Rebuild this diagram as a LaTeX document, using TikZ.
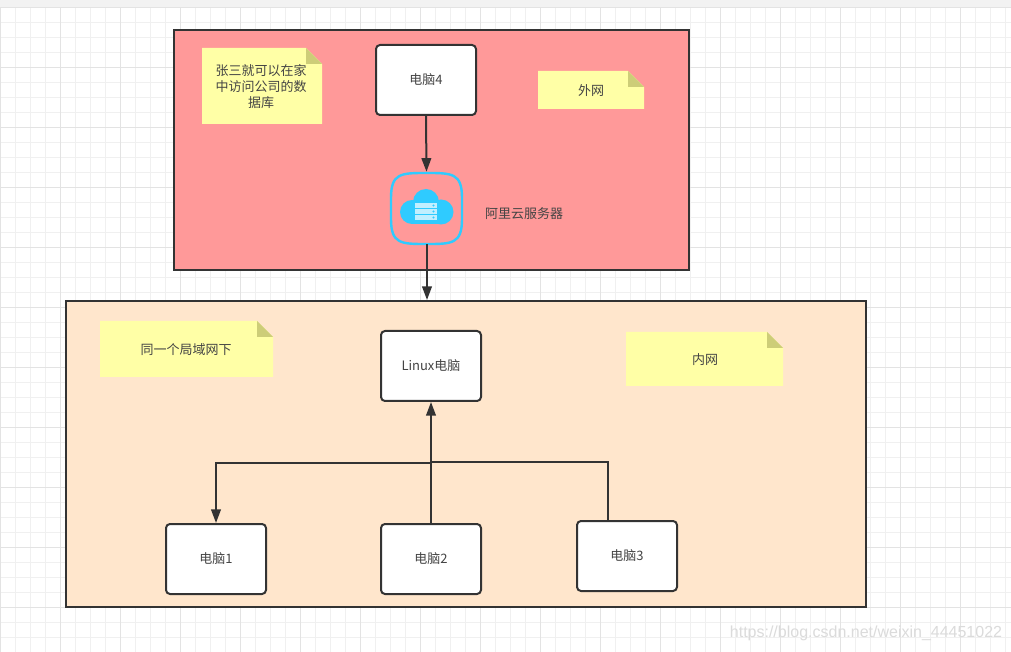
\documentclass[tikz,border=0pt]{standalone}
\usepackage{fontspec}
\setmainfont{Noto Sans CJK SC}
\newfontfamily\wmfont{Liberation Sans}
\usetikzlibrary{arrows.meta}
\definecolor{inkc}{HTML}{333333}
\definecolor{textc}{HTML}{444444}
\definecolor{redc}{HTML}{FF9999}
\definecolor{peachc}{HTML}{FFE6CC}
\definecolor{notec}{HTML}{FFFFA6}
\definecolor{foldc}{HTML}{CDCD78}
\definecolor{cloudc}{HTML}{2FCBFF}
\definecolor{minorc}{HTML}{F0F0F0}
\definecolor{majorc}{HTML}{E3E3E3}
\newcommand{\lowtext}[1]{\raisebox{-.75pt}{#1}}
\tikzset{
  x=0.75pt,y=-0.75pt,
  every node/.style={font=\fontsize{9.75}{12}\selectfont,text=textc,inner sep=0pt,align=center},
  compbox/.style={draw=inkc,fill=white,line width=1.5pt,rounded corners=3pt,minimum width=75pt,minimum height=52.5pt},
  link/.style={draw=inkc,line width=1.5pt},
  arrowlink/.style={link,-{Triangle[length=10.2pt,width=7.2pt]}},
  notebody/.style={fill=notec},
  notefold/.style={fill=foldc}
}
\begin{document}
\begin{tikzpicture}
\useasboundingbox (0,0) rectangle (1011,652);
\fill[white] (0,0) rectangle (1011,652);
% grid
\foreach \k in {0,...,67}{\draw[minorc,line width=.75pt] ({\k*15+.5},7) -- ({\k*15+.5},652);}
\foreach \k in {0,...,43}{\draw[minorc,line width=.75pt] (0,{7.5+\k*15}) -- (1011,{7.5+\k*15});}
\foreach \k in {0,...,16}{\draw[majorc,line width=.75pt] ({\k*60+.5},7) -- ({\k*60+.5},652);}
\foreach \k in {0,...,10}{\draw[majorc,line width=.75pt] (0,{7.5+\k*60}) -- (1011,{7.5+\k*60});}
\fill[black!5] (0,0) rectangle (1011,7);
% frames
\node[draw=inkc,line width=1.5pt,fill=redc,minimum width=386.25pt,minimum height=180pt] (outer) at (431.5,150) {};
\node[draw=inkc,line width=1.5pt,fill=peachc,minimum width=600pt,minimum height=229.5pt] (inner) at (466,454) {};
% notes
\fill[notebody] (202,48) -- (306,48) -- (322,64) -- (322,124) -- (202,124) -- cycle;
\fill[notefold] (306,48) -- (322,64) -- (306,64) -- cycle;
\node (note1) at (261,87) {张三就可以在家\\中访问公司的数\\据库};
\fill[notebody] (538,71) -- (628,71) -- (644,87) -- (644,109) -- (538,109) -- cycle;
\fill[notefold] (628,71) -- (644,87) -- (628,87) -- cycle;
\node (note2) at (591,91) {外网};
\fill[notebody] (100,321) -- (257,321) -- (273,337) -- (273,377) -- (100,377) -- cycle;
\fill[notefold] (257,321) -- (273,337) -- (257,337) -- cycle;
\node (note3) at (186,350) {同一个局域网下};
\fill[notebody] (626,332) -- (767,332) -- (783,348) -- (783,386) -- (626,386) -- cycle;
\fill[notefold] (767,332) -- (783,348) -- (767,348) -- cycle;
\node (note4) at (705,360) {内网};
% computers
\node[compbox] (pc4) at (426,80) {\lowtext{电脑4}};
\node[compbox] (linux) at (431,366) {\lowtext{Linux电脑}};
\node[compbox] (pc1) at (216,559) {\lowtext{电脑1}};
\node[compbox] (pc2) at (431,559) {\lowtext{电脑2}};
\node[compbox] (pc3) at (627,556) {\lowtext{电脑3}};
% cloud icon
\node[minimum width=53.25pt,minimum height=54pt] (cloud) at (426.5,208) {};
\draw[cloudc,line width=1.8pt]
  (426.5,173) .. controls (452,173) and (462,173) .. (462,198)
  -- (462,219) .. controls (462,244) and (452,244) .. (426.5,244)
  .. controls (401,244) and (391,244) .. (391,219)
  -- (391,198) .. controls (391,173) and (401,173) .. (426.5,173) -- cycle;
\fill[cloudc] (426,202) circle (13);
\fill[cloudc] (412,212) circle (12);
\fill[cloudc] (441,212) circle (12.5);
\fill[cloudc] (412,202) rectangle (441,224);
\foreach \y in {203,209,215}{
  \fill[white!70!cloudc] (415,\y) rectangle (437,{\y+5});
  \fill[cloudc] (433.5,{\y+2.5}) circle (1.2);
}
\node (cloudlabel) at (524,214) {阿里云服务器};
% connectors
\coordinate (innertop) at (427,300);
\draw[arrowlink] (pc4.south) -- (cloud.north);
\draw[arrowlink] (cloud.south) -- ([yshift=-0.5pt]cloud.south |- outer.south) -- ++(0.5,0) -- (innertop);
\coordinate (j12) at (linux.south |- 0,463);
\draw[arrowlink] (pc2.north) -- (linux.south);
\draw[arrowlink] (j12) -- (pc1.north |- j12) -- (pc1.north);
\draw[link] (608,521) -- (608,461.5) -- (431,461.5);
% watermark
\node[font=\wmfont\fontsize{12}{14}\selectfont,text=black!14] (wm) at (866,633) {https://blog.csdn.net/weixin\_44451022};
\end{tikzpicture}
\end{document}
